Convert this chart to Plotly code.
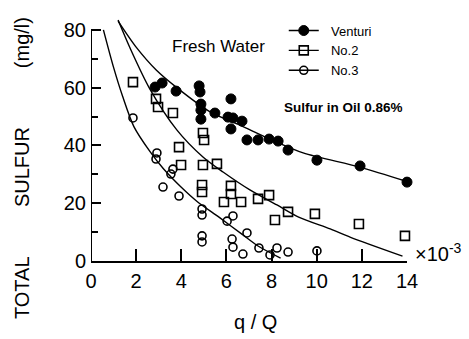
import plotly.graph_objects as go

# Measured total sulfur (mg/l) against flow ratio q/Q (x 10^-3)
venturi_q = [2.84, 3.15, 3.77, 4.79, 4.83, 4.87, 4.87, 4.87, 5.49, 6.20, 6.07, 6.29,
             6.20, 6.69, 6.91, 7.40, 7.89, 8.29, 8.73, 10.01, 11.92, 14.0]
venturi_s = [60.2, 61.6, 58.8, 60.6, 58.5, 54.3, 52.2, 49.1, 51.2, 56.1, 49.8, 49.5,
             45.7, 48.4, 41.9, 41.9, 42.2, 41.5, 38.4, 34.9, 32.9, 27.3]

no2_q = [1.86, 2.88, 2.97, 3.63, 4.96, 5.01, 3.90, 3.99, 4.96, 5.58, 4.92, 4.92,
         6.20, 6.20, 5.89, 6.65, 7.40, 7.89, 8.73, 8.15, 9.92, 11.87, 13.91]
no2_s = [61.9, 56.1, 53.3, 51.2, 44.3, 41.9, 39.4, 33.2, 33.2, 33.6, 26.3, 23.9,
         26.0, 23.2, 20.4, 20.4, 21.5, 22.8, 17.0, 14.2, 16.3, 12.8, 8.7]

no3_q = [1.86, 2.92, 2.88, 3.63, 3.54, 3.19, 3.90, 4.92, 4.92, 4.92, 4.92, 6.03,
         6.29, 6.25, 6.29, 6.73, 6.91, 7.44, 7.93, 8.24, 8.73, 10.01]
no3_s = [49.5, 37.4, 35.3, 31.8, 30.1, 25.6, 22.5, 18.0, 15.9, 8.7, 6.6, 13.8,
         15.6, 7.6, 4.8, 2.4, 9.7, 4.5, 2.1, 4.5, 3.1, 3.5]

# Hand-fitted trend curves
venturi_fit_q = [1.2, 2.0, 2.9, 3.8, 5.3, 6.6, 7.9, 9.4, 11.9, 14.0]
venturi_fit_s = [83.0, 74.0, 66.0, 60.0, 51.5, 47.0, 42.3, 37.4, 32.5, 27.5]

no2_fit_q = [1.2, 1.73, 2.61, 3.81, 4.96, 5.85, 7.04, 8.24, 9.2, 10.6, 11.5, 13.8]
no2_fit_s = [83.4, 73.7, 59.5, 45.3, 36.0, 30.8, 24.6, 19.4, 15.2, 11.1, 8.2, 1.7]

no3_fit_q = [0.55, 1.0, 1.4, 1.9, 2.6, 3.2, 4.0, 4.7, 5.7, 6.7, 7.4, 8.4]
no3_fit_s = [80.0, 67.0, 57.0, 46.5, 38.0, 32.0, 25.5, 20.6, 15.0, 9.2, 5.2, 1.0]

x_ticks = [0, 2, 4, 6, 8, 10, 12, 14]
y_ticks = [0, 20, 40, 60, 80]
y_minor = [10, 30, 50, 70]

FONT = "Liberation Sans"
INK = "black"

fig = go.Figure()

line_style = dict(color=INK, width=1.4, shape="spline", smoothing=0.8)
for fq, fs in [(venturi_fit_q, venturi_fit_s), (no2_fit_q, no2_fit_s), (no3_fit_q, no3_fit_s)]:
    fig.add_trace(go.Scatter(x=fq, y=fs, mode="lines", line=line_style,
                             showlegend=False, hoverinfo="skip"))

series = [
    ("Venturi", venturi_q, venturi_s, dict(symbol="circle", size=10, color=INK,
                                           line=dict(color=INK, width=1))),
    ("No.2", no2_q, no2_s, dict(symbol="square-open", size=9, color=INK,
                                line=dict(color=INK, width=1.6))),
    ("No.3", no3_q, no3_s, dict(symbol="circle-open", size=8, color=INK,
                                line=dict(color=INK, width=1.6))),
]

for name, qs, ss, mk in series:
    fig.add_trace(go.Scatter(x=qs, y=ss, mode="markers", marker=mk, name=name,
                             showlegend=False, cliponaxis=False))
    # legend key: marker with a short line through it
    fig.add_trace(go.Scatter(x=[None], y=[None], mode="lines+markers", marker=mk,
                             line=dict(color=INK, width=1.4), name="\u00a0\u00a0" + name))

# left spine stops at the 80 tick
fig.add_shape(type="line", xref="x", yref="y", x0=0, x1=0, y0=0, y1=80,
              line=dict(color=INK, width=2))

ann_font = dict(family=FONT, color=INK)
annotations = [
    dict(text="Fresh Water", x=0.405, y=0.881, font=dict(size=17, **ann_font)),
    dict(text="<b>Sulfur in Oil 0.86%</b>", x=0.80, y=0.63, font=dict(size=13.5, **ann_font)),
    dict(text="×10<sup>-3</sup>", x=1.02, y=0.035, xanchor="left", font=dict(size=20, **ann_font)),
    dict(text="q / Q", x=0.519, y=-0.251, font=dict(size=20, **ann_font)),
    dict(text="TOTAL", x=-0.218, y=-0.111, textangle=-90, font=dict(size=20, **ann_font)),
    dict(text="SULFUR", x=-0.218, y=0.387, textangle=-90, font=dict(size=20, **ann_font)),
    dict(text="(mg/l)", x=-0.218, y=0.897, textangle=-90, font=dict(size=20, **ann_font)),
]
for a in annotations:
    a.setdefault("xanchor", "center")
    fig.add_annotation(xref="paper", yref="paper", showarrow=False, yanchor="middle", **a)

fig.update_layout(
    width=469, height=339,
    margin=dict(l=91, r=62, t=18, b=78),
    paper_bgcolor="white", plot_bgcolor="white",
    font=dict(family=FONT, color=INK),
    legend=dict(x=0.61, y=1.01, xanchor="left", yanchor="top",
                font=dict(size=13, family=FONT, color=INK),
                bgcolor="rgba(0,0,0,0)", itemwidth=30, tracegroupgap=0),
    xaxis=dict(range=[0, 14], tickvals=x_ticks, ticks="inside", ticklen=12,
               tickwidth=1.5, tickcolor=INK, showline=True, linewidth=2,
               linecolor=INK, showgrid=False, zeroline=False,
               tickfont=dict(size=20, family=FONT, color=INK), ticklabelstandoff=1),
    yaxis=dict(range=[0, 84.1], tickvals=y_ticks, ticks="inside", ticklen=10,
               tickwidth=1.5, tickcolor=INK, showline=False, showgrid=False,
               zeroline=False, tickfont=dict(size=20, family=FONT, color=INK),
               ticklabelstandoff=4,
               minor=dict(tickvals=y_minor, ticks="inside", ticklen=7,
                          tickwidth=1.5, tickcolor=INK, showgrid=False)),
)

fig.write_html("out.html")
